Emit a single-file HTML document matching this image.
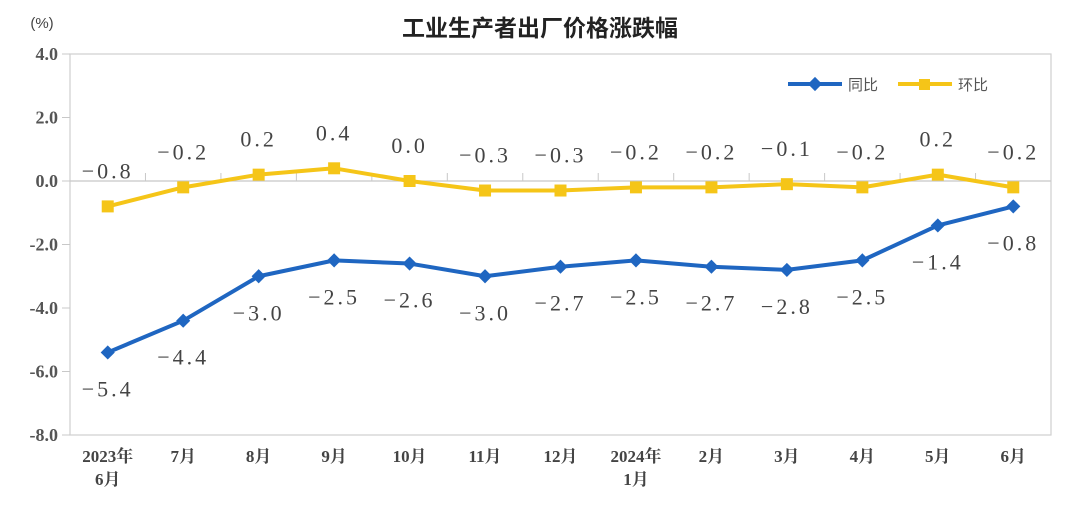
<!DOCTYPE html>
<html><head><meta charset="utf-8"><style>
body{margin:0;background:#fff}
svg text{font-family:"Liberation Serif","Noto Serif CJK SC",serif}
</style></head><body>
<svg id="c" width="1072" height="502" xmlns="http://www.w3.org/2000/svg">
<text x="540" y="36" text-anchor="middle" font-size="23" font-weight="bold" fill="#222" style="font-family:'Liberation Sans','Noto Sans CJK SC',sans-serif">工业生产者出厂价格涨跌幅</text>
<text x="42" y="28" text-anchor="middle" font-size="15" fill="#444" style="font-family:'Liberation Sans',sans-serif">(%)</text>
<rect x="70" y="54" width="981" height="381" fill="none" stroke="#cfcfcf" stroke-width="1.2"/>
<g id="axes"></g><g id="series"></g>
<g>
<g><line x1="788" y1="84" x2="842" y2="84" stroke="#1f66c1" stroke-width="4"/><rect x="810" y="79" width="10" height="10" transform="rotate(45 815 84)" fill="#1f66c1"/><text x="848" y="90" font-size="15" fill="#555" style="font-family:'Liberation Sans','Noto Sans CJK SC',sans-serif">同比</text></g>
<g><line x1="898" y1="84" x2="952" y2="84" stroke="#f5c518" stroke-width="4"/><rect x="919" y="79" width="11" height="11" fill="#f5c518"/><text x="958" y="90" font-size="15" fill="#555" style="font-family:'Liberation Sans','Noto Sans CJK SC',sans-serif">环比</text></g>
</g>
</svg>
<script>
const categories=[["2023年","6月"],["7月"],["8月"],["9月"],["10月"],["11月"],["12月"],["2024年","1月"],["2月"],["3月"],["4月"],["5月"],["6月"]];
const yoy=[-5.4,-4.4,-3.0,-2.5,-2.6,-3.0,-2.7,-2.5,-2.7,-2.8,-2.5,-1.4,-0.8];
const mom=[-0.8,-0.2,0.2,0.4,0.0,-0.3,-0.3,-0.2,-0.2,-0.1,-0.2,0.2,-0.2];
const yTicks=[4,2,0,-2,-4,-6,-8];
const NS="http://www.w3.org/2000/svg";
const L=70,R=1051,T=54,B=435,yMin=-8,yMax=4;
const band=(R-L)/categories.length;
const x=i=>L+band*(i+0.5);
const y=v=>B-(v-yMin)/(yMax-yMin)*(B-T);
function mk(tag,at,parent){const e=document.createElementNS(NS,tag);for(const k in at)e.setAttribute(k,at[k]);parent.appendChild(e);return e;}
const ax=document.getElementById('axes'),se=document.getElementById('series');
mk('line',{x1:L,y1:y(0),x2:R,y2:y(0),stroke:'#c8c8c8','stroke-width':1.2},ax);
yTicks.forEach(t=>{
 const tk=mk('line',{x1:L-8,y1:y(t),x2:L,y2:y(t),stroke:'#c8c8c8'},ax);
 
 
 const tx=mk('text',{x:L-12,y:y(t)+6,'text-anchor':'end','font-size':18,'font-weight':'600',fill:'#555'},ax);
 tx.textContent=t.toFixed(1);
 
 
});
categories.forEach((c,i)=>{
 if(i>0){const tk=mk('line',{x1:L+band*i,y1:y(0)-8,x2:L+band*i,y2:y(0),stroke:'#c8c8c8'},ax);
 
 }
 c.forEach((s,j)=>{const tx=mk('text',{x:x(i),y:462+j*23,'text-anchor':'middle','font-size':17,'font-weight':'bold',fill:'#444'},ax);
 tx.textContent=s;
 
 });
});
function line(vals,color,name){
 const p=mk('polyline',{points:vals.map((v,i)=>x(i)+','+y(v)).join(' '),fill:'none',stroke:color,'stroke-width':4,'stroke-linejoin':'round'},se);
 
 
}
line(mom,'#f5c518','mom');
line(yoy,'#1f66c1','yoy');
mom.forEach((v,i)=>{
 const r=mk('rect',{x:x(i)-6,y:y(v)-6,width:12,height:12,fill:'#f5c518'},se);
 
 
 const t=mk('text',{x:x(i),y:y(v)-28,'text-anchor':'middle','font-size':22,fill:'#444','letter-spacing':'3'},se);
 t.textContent=v.toFixed(1).replace('-','−');
 
 
});
yoy.forEach((v,i)=>{
 const r=mk('rect',{x:x(i)-5,y:y(v)-5,width:10,height:10,fill:'#1f66c1',transform:`rotate(45 ${x(i)} ${y(v)})`},se);
 
 
 const t=mk('text',{x:x(i),y:y(v)+44,'text-anchor':'middle','font-size':22,fill:'#444','letter-spacing':'3'},se);
 t.textContent=v.toFixed(1).replace('-','−');
 
 
});
</script>
</body></html>
